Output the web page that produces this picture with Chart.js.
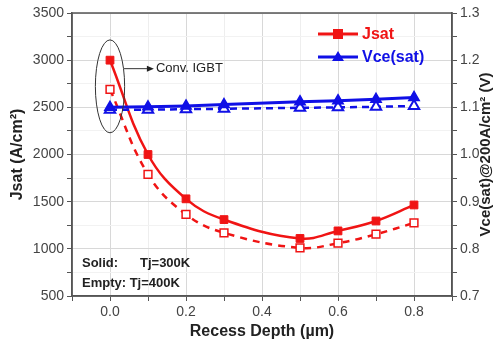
<!DOCTYPE html>
<html>
<head>
<meta charset="utf-8">
<script src="https://cdn.jsdelivr.net/npm/chart.js@4"></script>
<style>
  html, body { margin: 0; padding: 0; background: #fff; }
  #wrap { width: 500px; height: 341px; position: relative; }
</style>
</head>
<body>
<div id="wrap"><canvas id="grafico"></canvas></div>
<script>
// dados
const depth = [0, 0.1, 0.2, 0.3, 0.5, 0.6, 0.7, 0.8];
const jsat300 = [3000, 2000, 1530, 1310, 1110, 1190, 1295, 1465];
const jsat400 = [2690, 1790, 1365, 1170, 1010, 1060, 1155, 1275];
const vce300 = [1.100, 1.101, 1.103, 1.106, 1.112, 1.114, 1.117, 1.121];
const vce400 = [1.095, 1.095, 1.096, 1.097, 1.099, 1.100, 1.101, 1.103];

const xTicks = [0.0, 0.2, 0.4, 0.6, 0.8];
const yTicks = [500, 1000, 1500, 2000, 2500, 3000, 3500];
const y2Ticks = [0.7, 0.8, 0.9, 1.0, 1.1, 1.2, 1.3];

const RED = '#f01414';
const BLUE = '#1010e6';
const FONT = "'Liberation Sans', Arial, sans-serif";

function pts(xs, ys) {
    return xs.map((x, i) => ({ x: x, y: ys[i] }));
}

function isMajor(v, list) {
    return list.some(t => Math.abs(t - v) < 1e-6);
}

// moldura, anotações e legenda
const extras = {
    id: 'extras',
    afterDraw(chart) {
        const c = chart.ctx;
        const a = chart.chartArea;
        const sx = chart.scales.x, sy = chart.scales.y;
        c.save();
        c.strokeStyle = '#555';
        c.lineWidth = 1.5;
        c.strokeRect(a.left, a.top, a.right - a.left, a.bottom - a.top);

        // elipse "Conv. IGBT"
        const cx = sx.getPixelForValue(0.0);
        const cy = (sy.getPixelForValue(3215) + sy.getPixelForValue(2230)) / 2;
        const rx = (sx.getPixelForValue(0.04) - sx.getPixelForValue(-0.037)) / 2;
        const ry = (sy.getPixelForValue(2230) - sy.getPixelForValue(3215)) / 2;
        c.strokeStyle = '#333';
        c.lineWidth = 1;
        c.beginPath();
        c.ellipse(cx, cy, rx, ry, 0, 0, Math.PI * 2);
        c.stroke();

        const ay = sy.getPixelForValue(2910);
        const ax0 = sx.getPixelForValue(0.037);
        const ax1 = sx.getPixelForValue(0.105);
        c.beginPath();
        c.moveTo(ax0, ay);
        c.lineTo(ax1, ay);
        c.stroke();
        c.fillStyle = '#222';
        c.beginPath();
        c.moveTo(ax1 + 4, ay);
        c.lineTo(ax1 - 3, ay - 3);
        c.lineTo(ax1 - 3, ay + 3);
        c.closePath();
        c.fill();
        c.font = '13px ' + FONT;
        c.textBaseline = 'middle';
        c.textAlign = 'left';
        c.fillText('Conv. IGBT', ax1 + 6, ay);

        // texto Solid / Empty
        c.font = 'bold 13px ' + FONT;
        c.fillStyle = '#222';
        c.fillText('Solid:', a.left + 10, 263);
        c.fillText('Tj=300K', a.left + 68, 263);
        c.fillText('Empty: Tj=400K', a.left + 10, 283);

        // legenda
        const leg = [
            { label: 'Jsat', color: RED, style: 'rect', y: 34 },
            { label: 'Vce(sat)', color: BLUE, style: 'triangle', y: 57 }
        ];
        leg.forEach(item => {
            c.strokeStyle = item.color;
            c.fillStyle = item.color;
            c.lineWidth = 3;
            c.beginPath();
            c.moveTo(318, item.y);
            c.lineTo(358, item.y);
            c.stroke();
            if (item.style === 'rect') {
                c.fillRect(333, item.y - 5, 10, 10);
            } else {
                c.beginPath();
                c.moveTo(338, item.y - 6);
                c.lineTo(344, item.y + 4);
                c.lineTo(332, item.y + 4);
                c.closePath();
                c.fill();
            }
            c.font = 'bold 16px ' + FONT;
            c.fillText(item.label, 362, item.y + 1);
        });

        // título do eixo direito
        c.save();
        c.translate(486, (a.top + a.bottom) / 2);
        c.rotate(-Math.PI / 2);
        c.font = 'bold 15px ' + FONT;
        c.fillStyle = '#222';
        c.textAlign = 'center';
        c.textBaseline = 'middle';
        c.fillText('Vce(sat)@200A/cm² (V)', 0, 0);
        c.restore();
        c.restore();
    }
};

new Chart(document.getElementById('grafico'), {
    type: 'line',
    data: {
        datasets: [
            {
                label: 'Vce 300K',
                data: pts(depth, vce300),
                yAxisID: 'y2',
                borderColor: BLUE,
                backgroundColor: BLUE,
                borderWidth: 3,
                pointStyle: 'triangle',
                pointRadius: 6,
                pointBorderWidth: 1.5,
                tension: 0
            },
            {
                label: 'Vce 400K',
                data: pts(depth, vce400),
                yAxisID: 'y2',
                borderColor: BLUE,
                backgroundColor: '#fff',
                borderWidth: 2.5,
                borderDash: [7, 5],
                pointStyle: 'triangle',
                pointRadius: 6,
                pointBorderWidth: 2,
                pointBackgroundColor: '#fff',
                tension: 0
            },
            {
                label: 'Jsat 300K',
                data: pts(depth, jsat300),
                yAxisID: 'y',
                borderColor: RED,
                backgroundColor: RED,
                borderWidth: 2.5,
                pointStyle: 'rect',
                pointRadius: 5.5,
                pointBorderWidth: 1,
                tension: 0.4
            },
            {
                label: 'Jsat 400K',
                data: pts(depth, jsat400),
                yAxisID: 'y',
                borderColor: RED,
                backgroundColor: '#fff',
                borderWidth: 2.5,
                borderDash: [7, 6],
                pointStyle: 'rect',
                pointRadius: 5.5,
                pointBorderWidth: 1.5,
                pointBackgroundColor: '#fff',
                tension: 0.4
            }
        ]
    },
    options: {
        responsive: true,
        maintainAspectRatio: false,
        animation: false,
        layout: { padding: { top: 13, left: 0, right: 0, bottom: 0 } },
        plugins: {
            legend: { display: false },
            tooltip: { enabled: false }
        },
        scales: {
            x: {
                type: 'linear',
                min: -0.1,
                max: 0.9,
                afterFit: s => { s.height = 45; },
                afterBuildTicks: s => {
                    s.ticks = [];
                    for (let i = -1; i <= 9; i++) s.ticks.push({ value: i / 10 });
                },
                ticks: {
                    autoSkip: false,
                    maxRotation: 0,
                    color: '#444',
                    font: { family: FONT, size: 14 },
                    padding: 3,
                    callback: v => isMajor(v, xTicks) ? v.toFixed(1) : ''
                },
                grid: {
                    color: ctx => isMajor(ctx.tick.value, xTicks) ? '#d8d8d8' : '#eeeeee',
                    tickLength: 5,
                    tickColor: '#555'
                },
                border: { color: '#555', width: 1.5 },
                title: {
                    display: true,
                    text: 'Recess Depth (µm)',
                    color: '#222',
                    font: { family: FONT, size: 16, weight: 'bold' },
                    padding: { top: 0, bottom: 0 }
                }
            },
            y: {
                position: 'left',
                min: 500,
                max: 3500,
                afterFit: s => { s.width = 72; },
                afterBuildTicks: s => {
                    s.ticks = [];
                    for (let v = 500; v <= 3500; v += 250) s.ticks.push({ value: v });
                },
                ticks: {
                    autoSkip: false,
                    color: '#444',
                    font: { family: FONT, size: 14 },
                    padding: 3,
                    callback: v => isMajor(v, yTicks) ? String(v) : ''
                },
                grid: {
                    color: ctx => isMajor(ctx.tick.value, yTicks) ? '#d8d8d8' : '#f2f2f2',
                    tickLength: 5,
                    tickColor: '#555'
                },
                border: { color: '#555', width: 1.5 },
                title: {
                    display: true,
                    text: 'Jsat (A/cm²)',
                    color: '#222',
                    font: { family: FONT, size: 16, weight: 'bold' },
                    padding: { top: 8, bottom: 4 }
                }
            },
            y2: {
                position: 'right',
                min: 0.7,
                max: 1.3,
                afterFit: s => { s.width = 48; },
                afterBuildTicks: s => {
                    s.ticks = [];
                    for (let i = 14; i <= 26; i++) s.ticks.push({ value: i / 20 });
                },
                ticks: {
                    autoSkip: false,
                    color: '#444',
                    font: { family: FONT, size: 14 },
                    padding: 3,
                    callback: v => isMajor(v, y2Ticks) ? v.toFixed(1) : ''
                },
                grid: {
                    drawOnChartArea: false,
                    tickLength: 5,
                    tickColor: '#555'
                },
                border: { color: '#555', width: 1.5 }
            }
        }
    },
    plugins: [extras]
});
</script>
</body>
</html>
